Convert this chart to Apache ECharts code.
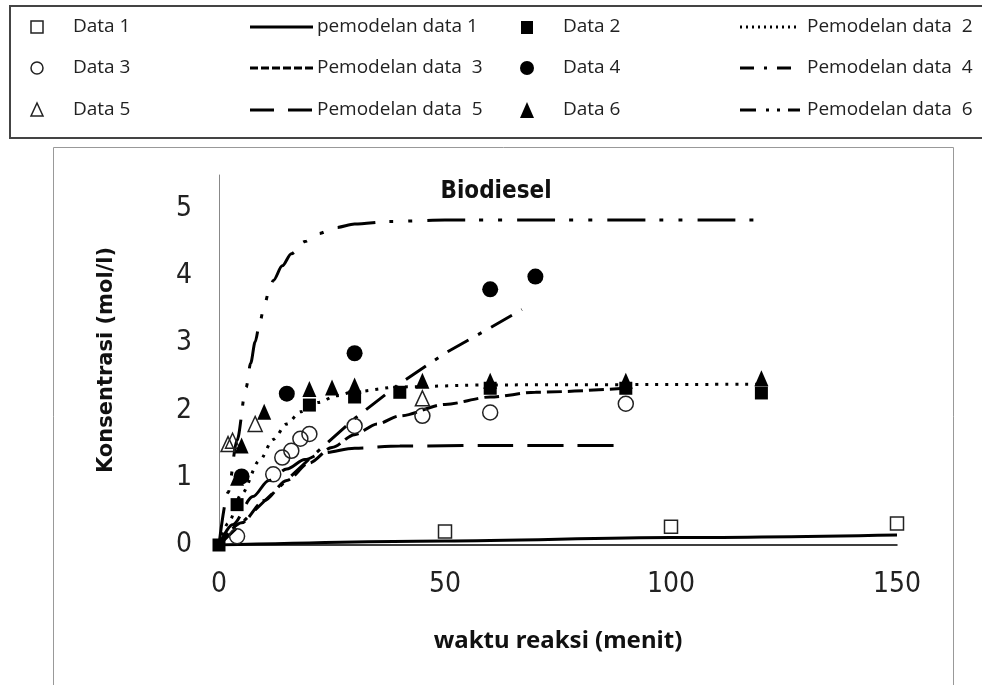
<!DOCTYPE html>
<html>
<head>
<meta charset="utf-8">
<script src="https://cdn.jsdelivr.net/npm/echarts@6/dist/echarts.min.js"></script>
<style>
html,body{margin:0;padding:0;background:#fff;}
#chart{width:982px;height:685px;}
</style>
</head>
<body>
<div id="chart"></div>
<script>
// ---- data (time in menit, concentration in mol/l) ----
const xTicks = [0, 50, 100, 150];
const yTicks = [0, 1, 2, 3, 4, 5];

const data1 = [[50, 0.2], [100, 0.27], [150, 0.32]];
const data2 = [[0, 0], [4, 0.6], [20, 2.08], [30, 2.2], [40, 2.27], [60, 2.33], [90, 2.33], [120, 2.26]];
const data3 = [[4, 0.13], [12, 1.05], [14, 1.3], [16, 1.4], [18, 1.58], [20, 1.65], [30, 1.77], [45, 1.92], [60, 1.97], [90, 2.1]];
const data4 = [[5, 1.02], [15, 2.25], [30, 2.85], [60, 3.8], [70, 3.99]];
const data5 = [[2, 1.5], [3, 1.55], [8, 1.8], [45, 2.18]];
const data6 = [[4, 1.0], [5, 1.48], [10, 1.98], [20, 2.32], [25, 2.34], [30, 2.37], [45, 2.44], [60, 2.44], [90, 2.44], [120, 2.48]];

const model1 = [[0, 0], [50, 0.06], [100, 0.11], [150, 0.15]];
const model2 = [[0, 0], [2, 0.32], [5, 0.76], [9, 1.26], [12, 1.57], [15, 1.8], [18, 1.98], [22, 2.12], [26, 2.22], [30, 2.28], [40, 2.35], [60, 2.38], [120, 2.39]];
const model3 = [[0, 0], [5, 0.33], [10, 0.66], [15, 0.96], [20, 1.22], [25, 1.45], [30, 1.64], [35, 1.8], [40, 1.92], [50, 2.09], [60, 2.2], [70, 2.27], [90, 2.33]];
const model4 = [[0, 0], [10, 0.65], [20, 1.28], [30, 1.88], [40, 2.4], [50, 2.85], [60, 3.23], [67, 3.5]];
const model5 = [[0, 0], [3, 0.3], [7.5, 0.72], [11, 0.96], [15, 1.13], [19, 1.27], [23, 1.37], [30, 1.44], [40, 1.47], [60, 1.48], [90, 1.48]];
const model6 = [[0, 0], [2, 0.78], [4, 1.56], [6, 2.34], [7, 2.7], [8, 3.02], [9, 3.3], [10, 3.55], [11, 3.76], [12, 3.93], [14, 4.15], [16, 4.33], [19, 4.51], [22, 4.63], [26, 4.72], [30, 4.77], [38, 4.81], [50, 4.83], [120, 4.83]];

const seriesNames = ['Data 1', 'pemodelan data 1', 'Data 2', 'Pemodelan data  2',
  'Data 3', 'Pemodelan data  3', 'Data 4', 'Pemodelan data  4',
  'Data 5', 'Pemodelan data  5', 'Data 6', 'Pemodelan data  6'];

// ---- styles ----
const INK = '#000';
const dash = {
  m1: 'solid',
  m2: [3, 7],
  m3: [15, 6],
  m4: [24, 11, 4, 11],
  m5: [36, 14],
  m6: [38, 14, 4, 15, 4, 15]
};
const tickFont = "'DejaVu Sans Condensed', 'Liberation Sans Narrow', sans-serif";
const legendFont = "'Open Sans', 'Noto Sans', sans-serif";

function lineSeries(name, data, type, smooth) {
  return {
    name: name, type: 'line', data: data, showSymbol: false, symbol: 'none',
    smooth: smooth, smoothMonotone: 'x',
    lineStyle: { color: INK, width: 3, type: type, cap: 'butt' },
    z: 2, silent: true
  };
}
function scatterSeries(name, data, symbol, size, filled) {
  return {
    name: name, type: 'scatter', data: data, symbol: symbol, symbolSize: size,
    itemStyle: filled ? { color: '#000', borderWidth: 0, opacity: 1 }
                      : { color: 'rgba(255,255,255,0)', borderColor: '#222', borderWidth: 1.5, opacity: 1 },
    z: 3, silent: true
  };
}

// ---- legend drawn as graphics ----
const rows = [27, 68, 110];
const legendGraphics = [];
legendGraphics.push({ type: 'rect', shape: { x: 10, y: 6, width: 990, height: 132 },
  style: { fill: '#fff', stroke: '#444', lineWidth: 2 }, z: 10 });
legendGraphics.push({ type: 'rect', shape: { x: 53.5, y: 147.5, width: 900, height: 560 },
  style: { fill: 'none', stroke: '#999', lineWidth: 1 }, z: 1 });

function legendText(x, y, t) {
  return { type: 'text', x: x, y: y, z: 11,
    style: { text: t, fontSize: 19, fontFamily: legendFont, fill: '#222', verticalAlign: 'middle' } };
}
function legendLine(x1, x2, y, d) {
  return { type: 'line', z: 11, shape: { x1: x1, y1: y, x2: x2, y2: y },
    style: { stroke: INK, lineWidth: 3, lineDash: d === 'solid' ? null : d } };
}
// column 1 (open markers)
legendGraphics.push({ type: 'rect', z: 11, shape: { x: 31, y: 21, width: 12, height: 12 }, style: { fill: 'none', stroke: '#222', lineWidth: 1.5 } });
legendGraphics.push({ type: 'circle', z: 11, shape: { cx: 37, cy: rows[1], r: 6 }, style: { fill: 'none', stroke: '#222', lineWidth: 1.5 } });
legendGraphics.push({ type: 'polygon', z: 11, shape: { points: [[37, 103], [31, 116], [43, 116]] }, style: { fill: 'none', stroke: '#222', lineWidth: 1.5 } });
legendGraphics.push(legendText(73, rows[0], seriesNames[0]));
legendGraphics.push(legendText(73, rows[1], seriesNames[4]));
legendGraphics.push(legendText(73, rows[2], seriesNames[8]));
// column 2 (model lines)
legendGraphics.push(legendLine(250, 313, rows[0], dash.m1));
legendGraphics.push(legendLine(250, 313, rows[1], [8, 3]));
legendGraphics.push(legendLine(250, 313, rows[2], [24, 14]));
legendGraphics.push(legendText(317, rows[0], seriesNames[1]));
legendGraphics.push(legendText(317, rows[1], seriesNames[5]));
legendGraphics.push(legendText(317, rows[2], seriesNames[9]));
// column 3 (filled markers)
legendGraphics.push({ type: 'rect', z: 11, shape: { x: 521, y: 21, width: 12, height: 13 }, style: { fill: '#000' } });
legendGraphics.push({ type: 'circle', z: 11, shape: { cx: 527, cy: rows[1], r: 7 }, style: { fill: '#000' } });
legendGraphics.push({ type: 'polygon', z: 11, shape: { points: [[527, 102], [520, 118], [534, 118]] }, style: { fill: '#000' } });
legendGraphics.push(legendText(563, rows[0], seriesNames[2]));
legendGraphics.push(legendText(563, rows[1], seriesNames[6]));
legendGraphics.push(legendText(563, rows[2], seriesNames[10]));
// column 4 (model lines)
legendGraphics.push(legendLine(740, 800, rows[0], [2, 4]));
legendGraphics.push(legendLine(740, 800, rows[1], [14, 10, 3, 10]));
legendGraphics.push(legendLine(740, 800, rows[2], [16, 10, 3, 8, 3, 8]));
legendGraphics.push(legendText(807, rows[0], seriesNames[3]));
legendGraphics.push(legendText(807, rows[1], seriesNames[7]));
legendGraphics.push(legendText(807, rows[2], seriesNames[11]));

const chart = echarts.init(document.getElementById('chart'), null, { renderer: 'canvas' });
chart.setOption({
  backgroundColor: '#fff',
  animation: false,
  title: {
    text: 'Biodiesel', left: 491, top: 175, textAlign: 'center',
    textStyle: { fontFamily: tickFont, fontSize: 24, fontWeight: 'bold', color: '#111' }
  },
  grid: { left: 219, right: 85, top: 175, bottom: 140, containLabel: false },
  xAxis: {
    type: 'value', min: xTicks[0], max: xTicks[xTicks.length - 1], interval: 50,
    name: 'waktu reaksi (menit)', nameLocation: 'middle', nameGap: 84,
    nameTextStyle: { fontFamily: "'Noto Sans', sans-serif", fontSize: 24, fontWeight: 'bold', color: '#111' },
    axisLine: { show: true, onZero: false, lineStyle: { color: '#000', width: 1.5 } },
    axisTick: { show: false },
    splitLine: { show: false },
    axisLabel: { margin: 26, fontFamily: tickFont, fontSize: 28, color: '#222',
      formatter: v => xTicks.includes(v) ? String(v) : '' }
  },
  yAxis: {
    type: 'value', min: 0, max: 5.5, interval: 1,
    name: 'Konsentrasi (mol/l)', nameLocation: 'middle', nameGap: 102, nameRotate: 90,
    nameTextStyle: { fontFamily: "'DejaVu Sans', sans-serif", fontSize: 21, fontWeight: 'bold', color: '#111' },
    axisLine: { show: true, lineStyle: { color: '#888', width: 1 } },
    axisTick: { show: false },
    splitLine: { show: false },
    axisLabel: { margin: 27, fontFamily: tickFont, fontSize: 28, color: '#222',
      formatter: v => yTicks.includes(v) ? String(v) : '' }
  },
  graphic: legendGraphics,
  series: [
    lineSeries(seriesNames[1], model1, dash.m1, 0.3),
    lineSeries(seriesNames[3], model2, dash.m2, 0.3),
    lineSeries(seriesNames[5], model3, dash.m3, 0.3),
    lineSeries(seriesNames[7], model4, dash.m4, false),
    lineSeries(seriesNames[9], model5, dash.m5, 0.3),
    lineSeries(seriesNames[11], model6, dash.m6, 0.3),
    scatterSeries(seriesNames[0], data1, 'rect', 13, false),
    scatterSeries(seriesNames[4], data3, 'circle', 15, false),
    scatterSeries(seriesNames[8], data5, 'triangle', [14, 15], false),
    scatterSeries(seriesNames[6], data4, 'circle', 16, true),
    scatterSeries(seriesNames[10], data6, 'triangle', [14, 16], true),
    scatterSeries(seriesNames[2], data2, 'rect', 13, true)
  ]
});
</script>
</body>
</html>
